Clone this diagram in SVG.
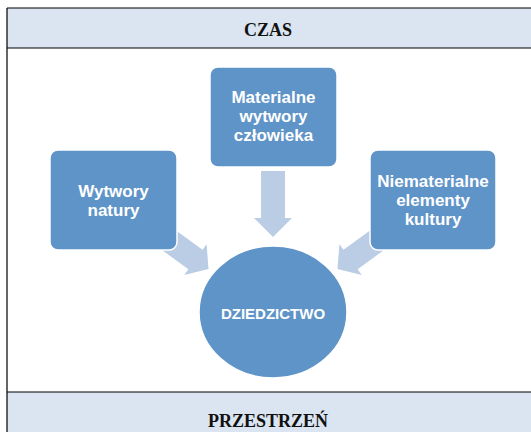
<svg xmlns="http://www.w3.org/2000/svg" width="531" height="432" viewBox="0 0 531 432">
<defs>
<style>
.hdr{fill:#dbe5f1;}
.ln{stroke:#000;stroke-width:1.2;fill:none;}
.ht{font-family:"Liberation Serif",serif;font-weight:bold;font-size:18px;fill:#111;text-anchor:middle;}
.box{fill:#5f94c8;stroke:#fff;stroke-width:1.5;}
.bt{font-family:"Liberation Sans",Arial,sans-serif;font-weight:bold;font-size:17px;fill:#fff;text-anchor:middle;}
.arr{fill:#bacde4;}
</style>
<polygon id="arrowShape" points="0,0 -19,-19 -19,-12 -66,-12 -66,12 -19,12 -19,19"/>
</defs>
<rect x="0" y="0" width="531" height="432" fill="#fff"/>
<g id="czas">
<rect class="hdr" x="7" y="8" width="524" height="40"/>
<text class="ht" x="268" y="36">CZAS</text>
</g>
<g id="przestrzen">
<rect class="hdr" x="7" y="392" width="524" height="40"/>
<text class="ht" x="268" y="427">PRZESTRZEŃ</text>
</g>
<g id="frame">
<path class="ln" d="M7,8 H531 M7,48 H531 M7,392 H531 M7,8 V432"/>
</g>
<g id="connectors">
<use href="#arrowShape" class="arr" transform="translate(273,237) rotate(90)"/>
<use href="#arrowShape" class="arr" transform="translate(208.5,269) rotate(36) scale(0.85,1)"/>
<use href="#arrowShape" class="arr" transform="translate(337.5,269) rotate(144) scale(0.85,1)"/>
</g>
<g id="wytwory-natury">
<rect class="box" x="50" y="150" width="127" height="100" rx="8"/>
<text class="bt" x="113.5" y="197">Wytwory</text>
<text class="bt" x="113.5" y="216">natury</text>
</g>
<g id="materialne">
<rect class="box" x="210" y="67" width="127" height="100" rx="8"/>
<text class="bt" x="273.5" y="103">Materialne</text>
<text class="bt" x="273.5" y="122">wytwory</text>
<text class="bt" x="273.5" y="141">człowieka</text>
</g>
<g id="niematerialne">
<rect class="box" x="370" y="150" width="126" height="100" rx="8"/>
<text class="bt" x="433" y="187">Niematerialne</text>
<text class="bt" x="433" y="206">elementy</text>
<text class="bt" x="433" y="225">kultury</text>
</g>
<g id="dziedzictwo">
<ellipse class="box" cx="273" cy="312" rx="74" ry="66"/>
<text class="bt" x="273" y="319" style="font-size:15px">DZIEDZICTWO</text>
</g>
</svg>
